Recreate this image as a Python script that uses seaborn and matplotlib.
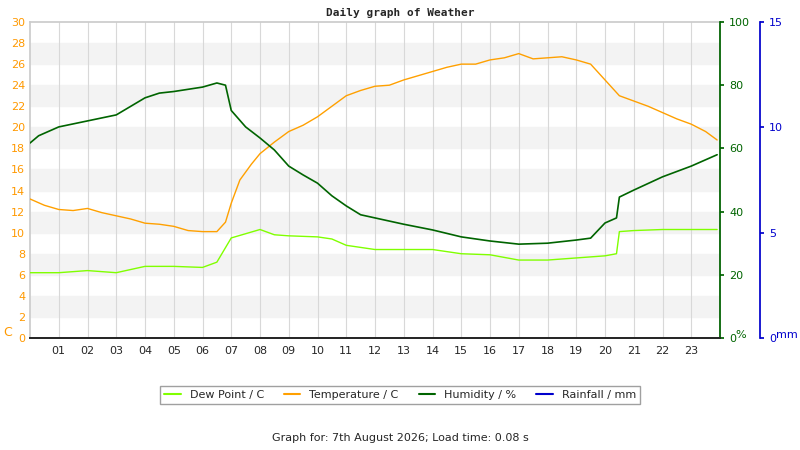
import numpy as np
import pandas as pd
import matplotlib
matplotlib.use("Agg")
import matplotlib.pyplot as plt
import seaborn as sns
from matplotlib.lines import Line2D

temp_h = [0,0.5,1,1.5,2,2.5,3,3.5,4,4.5,5,5.5,6,6.5,6.8,7,7.3,7.7,8,8.5,9,9.5,10,10.5,11,11.5,12,12.5,13,13.5,14,14.5,15,15.5,16,16.5,17,17.5,18,18.5,19,19.5,20,20.5,21,21.5,22,22.5,23,23.5,23.9]
temp_v = [13.2,12.6,12.2,12.1,12.3,11.9,11.6,11.3,10.9,10.8,10.6,10.2,10.1,10.1,11.0,12.8,15.0,16.5,17.5,18.6,19.6,20.2,21.0,22.0,23.0,23.5,23.9,24.0,24.5,24.9,25.3,25.7,26.0,26.0,26.4,26.6,27.0,26.5,26.6,26.7,26.4,26.0,24.5,23.0,22.5,22.0,21.4,20.8,20.3,19.6,18.8]
hum_h = [0,0.3,1,2,3,4,4.5,5,6,6.5,6.8,7,7.5,8,8.5,9,9.5,10,10.5,11,11.5,12,13,14,15,16,17,18,19,19.5,20,20.4,20.5,21,22,23,23.9]
hum_v = [61.7,64,66.8,68.7,70.6,76,77.5,78,79.4,80.7,80,72,66.8,63.3,59.5,54.4,51.6,49,45,41.8,39,38,36,34.2,32,30.7,29.7,30,31,31.6,36.4,38,44.6,46.8,51,54.4,58]
dew_h = [0,1,2,3,4,5,6,6.5,7,7.5,8,8.5,9,10,10.5,11,12,13,14,15,16,17,18,19,20,20.4,20.5,21,22,23,23.9]
dew_v = [6.2,6.2,6.4,6.2,6.8,6.8,6.7,7.2,9.5,9.9,10.3,9.8,9.7,9.6,9.4,8.8,8.4,8.4,8.4,8.0,7.9,7.4,7.4,7.6,7.8,8.0,10.1,10.2,10.3,10.3,10.3]
hour_labels = [f"{h:02d}" for h in range(1, 24)]

sns.set_theme(style="white")
plt.rcParams['font.family'] = ['DejaVu Sans']
fig = plt.figure(figsize=(8, 4.5), dpi=100)
ax = fig.add_axes([30/800, 112/450, 690/800, 316/450])
ax.set_xlim(0, 24); ax.set_ylim(0, 30)
for y in range(2, 30, 4):
    ax.axhspan(y, y+2, color="#f3f3f3", zorder=0)
for h in range(1, 24):
    ax.axvline(h, color="#d8d8d8", lw=0.8, zorder=0.5)

sns.lineplot(data=pd.DataFrame({"h": dew_h, "v": dew_v}), x="h", y="v", ax=ax, color="#80ff00", lw=1, zorder=3)
sns.lineplot(data=pd.DataFrame({"h": temp_h, "v": temp_v}), x="h", y="v", ax=ax, color="#ffa000", lw=1, zorder=3)
ax.set_xticks(range(1, 24)); ax.set_xticklabels(hour_labels, fontsize=8)
ax.set_yticks(range(0, 31, 2)); ax.tick_params(axis='y', colors="#ff9900", labelsize=8, length=0)
ax.tick_params(axis='x', length=0, pad=6)
ax.set_xlabel(""); ax.set_ylabel("")
for s in ax.spines.values(): s.set_color("#cccccc")

ax2 = ax.twinx()
ax2.set_ylim(0, 100)
sns.lineplot(data=pd.DataFrame({"h": hum_h, "v": hum_v}), x="h", y="v", ax=ax2, color="#006400", lw=1.2, zorder=4)
ax2.set_yticks(range(0, 101, 20)); ax2.tick_params(axis='y', colors="#006400", labelsize=8, length=3)
ax2.spines['right'].set_color("#006400"); ax2.set_ylabel(""); ax2.set_xlabel("")
ax2.spines['left'].set_visible(False); ax2.spines['top'].set_visible(False)

ax3 = ax.twinx()
ax3.set_ylim(0, 15)
ax3.spines['right'].set_position(('outward', 28.8)); ax3.spines['right'].set_color("#0000cc")
ax3.set_yticks([0, 5, 10, 15]); ax3.tick_params(axis='y', colors="#0000cc", labelsize=8, length=3)
ax3.spines['left'].set_visible(False); ax3.spines['top'].set_visible(False)

fig.text(3/800, 1-333/450, "C", color="#ff9900", fontsize=9, va="center")
fig.text(735/800, 1-335/450, "%", color="#006400", fontsize=8, va="center")
fig.text(776/800, 1-335/450, "mm", color="#0000cc", fontsize=8, va="center")
fig.text(0.5, 1-13/450, "Daily graph of Weather", ha="center", va="center", fontsize=8, family="DejaVu Sans Mono", weight="bold")
fig.text(0.5, 1-438/450, "Graph for: 7th August 2026; Load time: 0.08 s", ha="center", va="center", fontsize=8)

handles = [Line2D([], [], color=c, lw=1.5) for c in ["#80ff00", "#ffa000", "#006400", "#0000cc"]]
leg = fig.legend(handles, ["Dew Point / C", "Temperature / C", "Humidity / %", "Rainfall / mm"], loc="center",
                 bbox_to_anchor=(400/800, 1-395/450), ncol=4, fontsize=8, frameon=True, fancybox=False,
                 handlelength=1.5, columnspacing=1.8)
leg.get_frame().set_edgecolor("#888888")
fig.savefig("out.png", dpi=100)
